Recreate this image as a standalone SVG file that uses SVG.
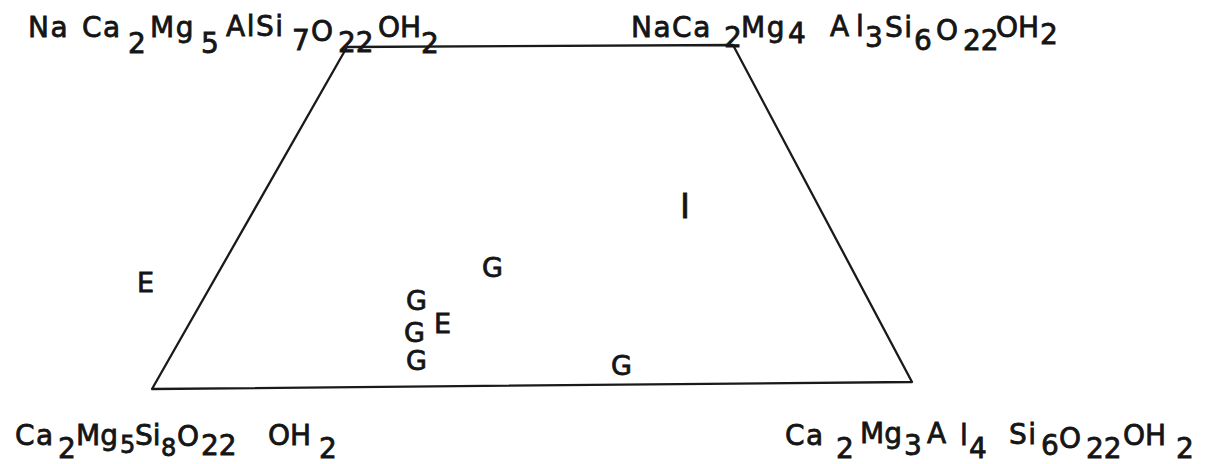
<svg xmlns="http://www.w3.org/2000/svg" width="1206" height="464" viewBox="0 0 1206 464">
<style>
.f{font-family:"DejaVu Sans","Liberation Sans",sans-serif;font-size:28px;letter-spacing:1.5px;fill:#151515;stroke:#151515;stroke-width:0.8;}
.s{font-size:28px;letter-spacing:0px;}
.m{font-size:24px;letter-spacing:0px;}
.t{letter-spacing:0px;}
.pt{font-family:"DejaVu Sans","Liberation Sans",sans-serif;font-size:27px;fill:#151515;stroke:#151515;stroke-width:0.8;}
.edge{fill:none;stroke:#1a1a1a;stroke-width:2.3;stroke-linejoin:round;}
</style>
<rect width="1206" height="464" fill="#ffffff"/>
<g id="connectors">
<polyline class="edge" points="347,47 733,45 912,382 152,389 347,47"/>
</g>
<g id="node-tl">
<text class="f"><tspan x="28" y="37">Na</tspan><tspan x="82" y="37">Ca</tspan><tspan class="s" x="128" y="53">2</tspan><tspan x="150" y="37">Mg</tspan><tspan class="s" x="201" y="53">5</tspan><tspan x="226" y="36">AlSi</tspan><tspan class="s" x="292" y="50">7</tspan><tspan x="311" y="41">O</tspan><tspan class="s" x="338" y="52">22</tspan><tspan class="t" x="378" y="37">OH</tspan><tspan class="s" x="421" y="53">2</tspan></text>
</g>
<g id="node-tr">
<text class="f"><tspan x="631" y="37">NaCa</tspan><tspan class="s" x="724" y="47">2</tspan><tspan x="741" y="37">Mg</tspan><tspan class="s" x="788" y="43">4</tspan><tspan x="830" y="36">A</tspan><tspan x="856" y="36">l</tspan><tspan class="s" x="865" y="47">3</tspan><tspan x="885" y="37">Si</tspan><tspan class="s" x="914" y="50">6</tspan><tspan x="936" y="40">O</tspan><tspan class="s" x="963" y="50">22</tspan><tspan class="t" x="996" y="37">OH</tspan><tspan class="s" x="1040" y="44">2</tspan></text>
</g>
<g id="node-bl">
<text class="f"><tspan x="15" y="445">Ca</tspan><tspan class="s" x="58" y="458">2</tspan><tspan class="t" x="76" y="445">Mg</tspan><tspan class="m" x="120" y="453">5</tspan><tspan class="t" x="135" y="445">Si</tspan><tspan class="m" x="161" y="456">8</tspan><tspan x="177" y="446">O</tspan><tspan class="s" x="201" y="455">22</tspan><tspan class="t" x="268" y="445">OH</tspan><tspan class="s" x="319" y="458">2</tspan></text>
</g>
<g id="node-br">
<text class="f"><tspan x="785" y="445">Ca</tspan><tspan class="s" x="836" y="458">2</tspan><tspan class="t" x="860" y="443">Mg</tspan><tspan class="s" x="904" y="455">3</tspan><tspan x="927" y="443">A</tspan><tspan x="960" y="445">l</tspan><tspan class="s" x="969" y="458">4</tspan><tspan x="1009" y="444">Si</tspan><tspan class="s" x="1041" y="455">6</tspan><tspan x="1059" y="448">O</tspan><tspan class="s" x="1086" y="458">22</tspan><tspan class="t" x="1123" y="445">OH</tspan><tspan class="s" x="1176" y="458">2</tspan></text>
</g>
<g id="points">
<text class="pt" x="137" y="292">E</text>
<text class="pt" x="482" y="277">G</text>
<text class="pt" x="406" y="310">G</text>
<text class="pt" x="404" y="342">G</text>
<text class="pt" x="434" y="333">E</text>
<text class="pt" x="406" y="370">G</text>
<text class="pt" x="611" y="375">G</text>
<text class="pt" x="680" y="218" style="font-size:34px">I</text>
</g>
</svg>
